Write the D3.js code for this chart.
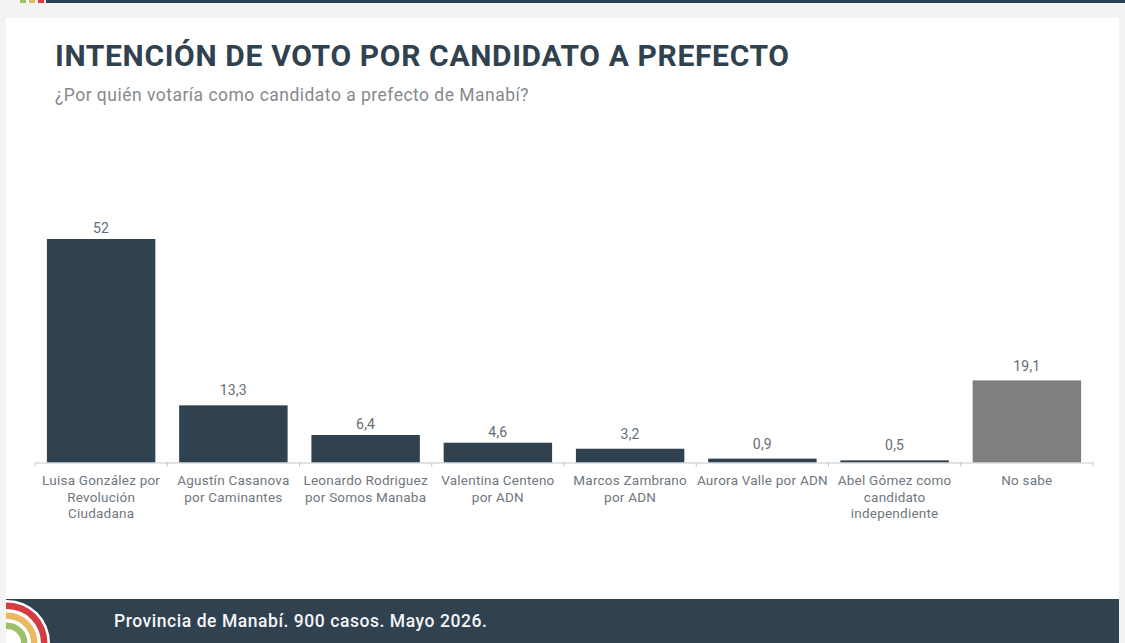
<!DOCTYPE html>
<html>
<head>
<meta charset="utf-8">
<script src="https://d3js.org/d3.v7.min.js"></script>
<style>
  html, body { margin: 0; padding: 0; background: #f3f3f3; }
  svg { display: block; }
  text { font-family: Roboto, sans-serif; }
</style>
</head>
<body>
<div id="mychart"></div>
<script>
// data
var candidates = ["Luisa González por|Revolución|Ciudadana", "Agustín Casanova|por Caminantes", "Leonardo Rodriguez|por Somos Manaba", "Valentina Centeno|por ADN", "Marcos Zambrano|por ADN", "Aurora Valle por ADN", "Abel Gómez como|candidato|independiente", "No sabe"];
var votes = [52, 13.3, 6.4, 4.6, 3.2, 0.9, 0.5, 19.1];
var voteLabels = ["52", "13,3", "6,4", "4,6", "3,2", "0,9", "0,5", "19,1"];
var barColors = ["#30414f", "#30414f", "#30414f", "#30414f", "#30414f", "#30414f", "#30414f", "#7f7f7f"];
var arcColors = ["#d63a42", "#e9b860", "#9dbf6a"];

var W = 1125, H = 643;
var margin = {left: 35, right: 32, top: 239, bottom: 180.5};
var width = W - margin.left - margin.right,
    height = H - margin.top - margin.bottom;

var root = d3.select("#mychart").append("svg")
  .attr("width", W)
  .attr("height", H);

// page background pieces
root.append("rect").attr("x", 6).attr("y", 18).attr("width", 1113).attr("height", 590).attr("fill", "#ffffff");
root.append("rect").attr("x", 46).attr("y", 0).attr("width", 1079).attr("height", 3).attr("fill", "#30414f");
root.selectAll(".topdot").data(arcColors.slice().reverse()).enter().append("rect")
  .attr("class", "topdot")
  .attr("x", function(d, i) { return 20 + i * 9; })
  .attr("y", 0).attr("width", 6).attr("height", 3)
  .attr("fill", function(d) { return d; });

// footer
root.append("rect").attr("x", 6).attr("y", 599).attr("width", 1113).attr("height", 44).attr("fill", "#30414f");
root.append("clipPath").attr("id", "footclip").append("rect")
  .attr("x", 6).attr("y", 599).attr("width", 60).attr("height", 44);
var footerArcs = root.append("g")
  .attr("clip-path", "url(#footclip)")
  .append("g")
  .attr("transform", "translate(7,643)");
footerArcs.append("path")
  .attr("d", d3.arc().innerRadius(0).outerRadius(43).startAngle(-Math.PI / 2).endAngle(Math.PI / 2))
  .attr("fill", "#ffffff");
arcColors.forEach(function(c, i) {
  footerArcs.append("path")
    .attr("d", d3.arc().innerRadius(34 - i * 10).outerRadius(40.5 - i * 10).startAngle(-Math.PI / 2).endAngle(Math.PI / 2))
    .attr("fill", c);
});
root.append("text")
  .attr("x", 114).attr("y", 627)
  .attr("font-size", 17.5).attr("font-weight", 500).attr("letter-spacing", 0.55)
  .attr("fill", "#f4f5f6")
  .text("Provincia de Manabí. 900 casos. Mayo 2026.");

// titles
root.append("text")
  .attr("x", 55).attr("y", 66)
  .attr("font-size", 30).attr("font-weight", 700).attr("letter-spacing", 0.65)
  .attr("fill", "#30414f")
  .text("INTENCIÓN DE VOTO POR CANDIDATO A PREFECTO");
root.append("text")
  .attr("x", 55).attr("y", 101)
  .attr("font-size", 17.5).attr("letter-spacing", 0.48)
  .attr("fill", "#85898d")
  .text("¿Por quién votaría como candidato a prefecto de Manabí?");

// chart
var svg = root.append("g")
  .attr("transform", "translate(" + margin.left + "," + margin.top + ")");

var x = d3.scaleBand().domain(candidates).range([0, width]).paddingInner(0.18).paddingOuter(0.09);
var y = d3.scaleLinear().domain([0, 52]).range([height, 0]);

svg.selectAll(".bar").data(votes).enter().append("rect")
  .attr("class", "bar")
  .attr("x", function(d, i) { return x(candidates[i]); })
  .attr("y", function(d) { return y(d); })
  .attr("width", x.bandwidth())
  .attr("height", function(d) { return y(0) - y(d); })
  .attr("fill", function(d, i) { return barColors[i]; });

// the value labels do not all sit at the same distance above their bar
var labelGap = [6, 10, 6, 6, 10, 10, 10, 9];
svg.selectAll(".val").data(votes).enter().append("text")
  .attr("class", "val")
  .attr("x", function(d, i) { return x(candidates[i]) + x.bandwidth() / 2; })
  .attr("y", function(d, i) { return y(d) - labelGap[i]; })
  .attr("text-anchor", "middle")
  .attr("font-size", 14).attr("letter-spacing", 0.2)
  .attr("fill", "#646e77")
  .text(function(d, i) { return voteLabels[i]; });

// x axis, labels broken on the | marks
var xAxis = svg.append("g")
  .attr("transform", "translate(0," + height + ")")
  .call(d3.axisBottom(x).tickSize(0).tickPadding(0));
xAxis.select(".domain").attr("stroke", "#c4c7ca").attr("stroke-width", 1);
xAxis.selectAll(".tick text").each(function(d) {
  var t = d3.select(this).text(null)
    .attr("font-size", 13.5).attr("letter-spacing", 0.22).attr("fill", "#6f7780").attr("y", 0).attr("dy", null);
  d.split("|").forEach(function(line, i) {
    t.append("tspan").attr("x", 0).attr("y", 22.5 + i * 16.6).text(line);
  });
});
var step = x.step();
svg.selectAll(".sep").data(d3.range(candidates.length + 1)).enter().append("line")
  .attr("class", "sep")
  .attr("x1", function(i) { return i * step; })
  .attr("x2", function(i) { return i * step; })
  .attr("y1", height).attr("y2", height + 4)
  .attr("stroke", "#c4c7ca");
</script>
</body>
</html>
